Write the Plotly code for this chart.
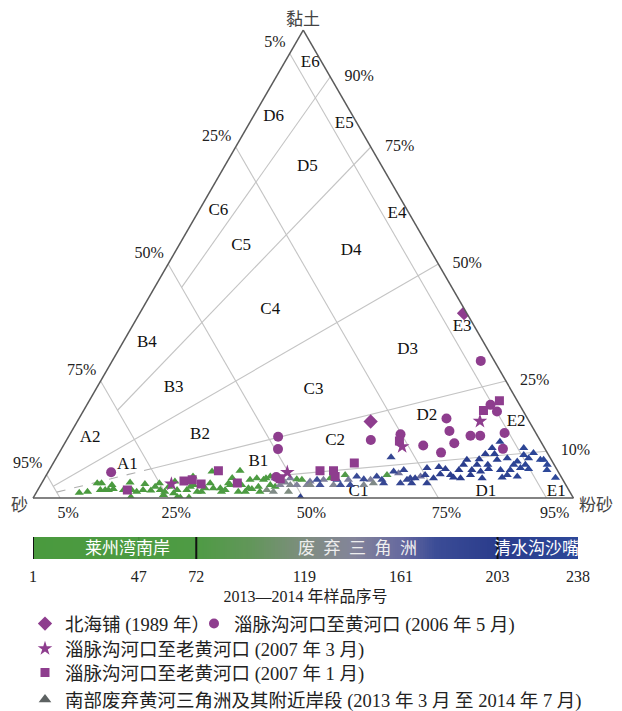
import plotly.graph_objects as go

# ------------------------------------------------------------------ data
# values are (silt %, clay %); sand = 100 - silt - clay
diamond_silt = [60.0, 54.3]
diamond_clay = [39.5, 16.35]

circle_silt = [11.7, 38.8, 40.1, 42.75, 56.3, 61.2, 66.6, 70.65, 68.0, 69.9,
               72.1, 74.3, 76.1, 68.2, 74.7, 76.6, 80.3, 81.7]
circle_clay = [5.5, 13.1, 10.45, 4.5, 12.4, 13.6, 11.2, 9.7, 17.0, 14.3,
               11.7, 13.3, 13.3, 29.3, 19.9, 18.5, 13.9, 10.5]

star_silt = [24.1, 44.3, 62.8, 74.5]
star_clay = [3.0, 5.5, 11.0, 16.4]

square_silt = [16.6, 26.1, 27.5, 29.6, 31.4, 36.2, 43.7, 50.2, 52.7, 53.6,
               55.7, 61.7, 74.0, 75.9]
square_clay = [1.7, 3.65, 3.9, 3.0, 5.8, 3.2, 4.1, 5.8, 5.8, 4.6,
               7.5, 12.2, 18.7, 20.8]

# 2013-2014 samples (sample number, silt %, clay %)
laizhou_no = list(range(1, 62))
laizhou_silt = [8.0, 9.4, 10.3, 11.1, 11.6, 12.5, 13.1, 13.2, 13.9, 15.9, 16.3, 17.4,
                18.0, 18.5, 19.5, 21.0, 21.8, 22.7, 23.8, 23.7, 23.9, 25.5, 25.8, 24.5,
                26.6, 27.2, 27.6, 28.8, 27.3, 28.3, 29.7, 30.5, 31.2, 30.3, 32.3, 33.6,
                34.2, 34.6, 35.1, 36.1, 37.3, 35.4, 37.2, 38.6, 38.8, 38.2, 39.55, 39.3,
                40.5, 41.3, 40.7, 41.0, 41.6, 42.5, 43.6, 19.2, 21.4, 27.9, 30.8, 34.7, 34.7]
laizhou_clay = [1.1, 1.35, 3.15, 3.15, 1.7, 1.7, 1.7, 2.8, 1.9, 1.7, 3.3, 1.7,
                0.2, 1.35, 1.7, 1.6, 3.15, 1.7, 0.65, 1.35, 2.4, 1.0, 1.7, 3.5,
                0.2, 0.1, 1.7, 0.1, 4.6, 2.8, 1.35, 1.35, 3.15, 5.65, 2.1, 2.1,
                1.35, 3.15, 2.8, 3.15, 1.35, 5.8, 2.8, 1.35, 2.1, 3.9, 1.9, 4.2,
                2.4, 1.35, 3.9, 4.2, 4.6, 2.8, 2.4, 3.0, 2.4, 2.4, 2.1, 1.7, 4.3]

delta_no = [73, 74, 75, 76, 77,
            118, 125, 160, 140, 135, 120, 145, 130, 142, 138, 150, 128, 146, 136, 148,
            132, 144, 126, 152, 155,
            195, 176, 174, 178, 175, 177, 180, 179, 182, 181, 184, 186, 188, 183, 187,
            189, 185, 190, 191, 192, 193, 194]
delta_silt = [46.8, 47.8, 52.9, 55.3, 63.05,
              42.4, 43.8, 42.7, 44.3, 45.0, 46.6, 45.5, 46.2, 47.4, 49.3, 49.5, 49.9, 51.8,
              54.2, 56.4, 59.8, 60.5, 61.4, 65.0, 69.4,
              49.4, 50.6, 51.7, 54.3, 55.5, 57.3, 57.6, 59.2, 61.3, 62.6, 63.3, 61.9, 63.9,
              66.4, 65.6, 67.25, 67.7, 68.5, 68.6, 70.1, 71.3, 69.7]
delta_clay = [4.0, 3.9, 4.2, 4.9, 4.9,
              1.7, 1.35, 4.2, 2.8, 3.3, 1.35, 4.2, 2.8, 2.8, 2.8, 3.5, 2.8, 3.9,
              2.8, 3.9, 2.8, 3.9, 3.15, 5.3, 4.6,
              0.15, 3.9, 2.8, 3.9, 2.8, 2.8, 4.6, 4.0, 4.6, 3.9, 3.15, 8.7, 5.65,
              3.15, 6.0, 3.9, 4.2, 3.15, 4.2, 4.9, 3.15, 6.4]

qingshuigou_no = list(range(196, 239))
qingshuigou_silt = [72.0, 71.8, 72.8, 73.2, 74.8, 75.6, 75.8, 77.0, 76.1, 76.2, 78.5,
                    78.2, 78.6, 78.4, 80.0, 81.0, 79.0, 80.6, 81.2, 79.6, 80.7, 81.8,
                    80.4, 83.5, 84.6, 83.5, 85.3, 85.3, 85.4, 85.7, 87.3, 87.0, 85.45,
                    86.2, 87.55, 87.45, 88.6, 87.8, 89.8, 90.4, 91.6, 92.1, 94.5]
qingshuigou_clay = [4.2, 6.6, 5.1, 6.2, 4.9, 4.4, 6.0, 4.2, 7.1, 8.15, 4.9,
                    6.0, 7.1, 8.3, 5.65, 4.2, 9.4, 7.1, 6.2, 10.7, 9.4, 8.15,
                    12.0, 6.0, 4.4, 8.5, 4.9, 6.0, 7.1, 7.8, 4.6, 6.4, 10.7,
                    9.2, 7.1, 8.5, 6.2, 9.6, 8.15, 8.15, 7.1, 6.0, 4.35]

# classification scheme
sand_classes = [95, 75, 50, 25, 5]                 # sand-content boundaries
ratio_classes = [10, 25, 50, 75, 90]               # clay share of mud (%)
ratio_start_sand = [50, 75, 95, 75, 50]            # where each solid ratio line begins
dashed_ratio = 25                                  # ratio line drawn dashed inside A
zone_names = ["E6", "D6", "E5", "D5", "C6", "C5", "E4", "D4", "C4", "B4", "B3",
              "C3", "D3", "E3", "A2", "B2", "C2", "D2", "E2", "A1", "B1", "C1",
              "D1", "E1"]

# percentage tick labels on the three sides
left_tick_sand = [5, 25, 50, 75, 95]
left_ticks = ["5%", "25%", "50%", "75%", "95%"]     # sand % along the sand-clay side
bottom_tick_silt = [5, 25, 50, 75, 95]
bottom_ticks = ["5%", "25%", "50%", "75%", "95%"]   # silt % along the sand-silt side
right_tick_clay = [90, 75, 50, 25, 10]
right_ticks = ["90%", "75%", "50%", "25%", "10%"]   # clay % along the silt-clay side

# colour bar
bar_ticks = [1, 47, 72, 119, 161, 203, 238]
region_names = ["莱州湾南岸", "废\u2002弃\u2002三\u2002角\u2002洲", "清水沟沙嘴"]
region_bounds = [1, 72, 203, 238]

# ------------------------------------------------------------------ style / layout
W, H, PAGE = 614, 703, 8          # page body has an 8px margin


def px(x):
    return (x - PAGE) / W


def py(y):
    return 1 - (y - PAGE) / H


FONT = "Liberation Serif, 'Noto Sans CJK SC', serif"
PURPLE = "#8e3d8e"
LINE = "#c4c4c4"
EDGE = "#5a5a5a"
SCALE = [[0.0, "#4a9a3e"], [0.30, "#4e9b44"], [0.40, "#62965a"], [0.50, "#7f8d80"],
         [0.59, "#83849a"], [0.68, "#65689f"], [0.74, "#3b4c96"], [0.85, "#2a3c8c"],
         [1.0, "#2d4899"]]
LEFT_LABEL_LIFT = 2.2      # reference prints side labels slightly off their lines
BOTTOM_LABEL_SHIFT = 1.5
NB = "\u00a0"

# label anchor positions (clay, silt) for the zone names
zone_pos = [(92.9, 4.85), (81.5, 3.75), (80.0, 17.6), (70.75, 15.4), (61.4, 3.6),
            (53.8, 11.6), (60.7, 37.0), (52.9, 32.4), (40.3, 23.75), (33.2, 4.45),
            (23.5, 14.25), (23.2, 40.3), (31.6, 53.5), (36.5, 61.15), (12.8, 4.15),
            (13.5, 24.15), (12.3, 49.75), (17.6, 64.1), (16.4, 81.2), (7.1, 13.9),
            (7.8, 37.8), (1.25, 59.6), (1.35, 83.1), (1.35, 96.15)]


def sand_of(silt, clay):
    return [100 - s - c for s, c in zip(silt, clay)]


fig = go.Figure()

# ---- classification lines
sa, sb, sc = [], [], []
for s in sand_classes:
    sa += [100 - s, 0, None]; sb += [s, s, None]; sc += [0, 100 - s, None]
for r, s0 in zip(ratio_classes, ratio_start_sand):
    mud = 100 - s0
    sa += [r * mud / 100, r, None]; sb += [s0, 0, None]
    sc += [(100 - r) * mud / 100, 100 - r, None]
fig.add_trace(go.Scatterternary(a=sa, b=sb, c=sc, mode="lines",
                                line=dict(color=LINE, width=1.1),
                                hoverinfo="skip", showlegend=False))
fig.add_trace(go.Scatterternary(
    a=[dashed_ratio * 5 / 100, dashed_ratio * 25 / 100], b=[95, 75],
    c=[(100 - dashed_ratio) * 5 / 100, (100 - dashed_ratio) * 25 / 100],
    mode="lines", line=dict(color="#b0b0b0", width=1.1, dash="dash"),
    hoverinfo="skip", showlegend=False))

# ---- zone labels
fig.add_trace(go.Scatterternary(
    a=[p[0] for p in zone_pos], c=[p[1] for p in zone_pos],
    b=[100 - p[0] - p[1] for p in zone_pos], mode="text", text=zone_names,
    textfont=dict(family=FONT, size=17, color="#111"), hoverinfo="skip",
    showlegend=False))

# ---- 2013-2014 samples
tri_no = laizhou_no + delta_no + qingshuigou_no
tri_silt = laizhou_silt + delta_silt + qingshuigou_silt
tri_clay = laizhou_clay + delta_clay + qingshuigou_clay
fig.add_trace(go.Scatterternary(
    a=tri_clay, b=sand_of(tri_silt, tri_clay), c=tri_silt, mode="markers",
    marker=dict(symbol="triangle-up", size=8, color=tri_no, colorscale=SCALE,
                cmin=1, cmax=238, line=dict(width=0)),
    showlegend=False, name="2013-2014"))


def purple(silt, clay, symbol, size, name, legend, width=None):
    fig.add_trace(go.Scatterternary(
        a=clay, b=sand_of(silt, clay), c=silt, mode="markers", name=name,
        marker=dict(symbol=symbol, size=size, color=PURPLE, line=dict(width=0)),
        legend=legend, legendwidth=width))


purple(diamond_silt, diamond_clay, "diamond", 11, "北海铺 (1989 年）", "legend", 124)
purple(circle_silt, circle_clay, "circle", 10, "淄脉沟河口至黄河口 (2006 年 5 月)", "legend")
purple(star_silt, star_clay, "star", 11, "淄脉沟河口至老黄河口 (2007 年 3 月)", "legend2")
purple(square_silt, square_clay, "square", 9, "淄脉沟河口至老黄河口 (2007 年 1 月)", "legend3")
fig.add_trace(go.Scatterternary(
    a=[None], b=[None], c=[None], mode="markers",
    name="南部废弃黄河三角洲及其附近岸段 (2013 年 3 月 至 2014 年 7 月)",
    marker=dict(symbol="triangle-up", size=11, color="#5d6262"), legend="legend4"))

# ---- colour bar of sample numbers
bar_x = list(range(1, 239))
fig.add_trace(go.Heatmap(x=bar_x, y=[0], z=[bar_x], colorscale=SCALE, zmin=1, zmax=238,
                         showscale=False, hoverinfo="skip", xaxis="x", yaxis="y"))
for xb in region_bounds[:-1]:
    fig.add_shape(type="line", xref="x", yref="y domain", x0=xb, x1=xb, y0=0, y1=1,
                  line=dict(color="#111", width=2))
fig.add_shape(type="line", xref="x", yref="y domain", x0=47, x1=47, y0=0, y1=1,
              line=dict(color="rgba(0,0,0,0.15)", width=1))
for name, centre in zip(region_names, [42, 142, 220]):
    fig.add_annotation(x=centre, y=0, xref="x", yref="y", text=name, showarrow=False,
                       font=dict(family=FONT, size=17,
                                 color="#eeeeee" if name.startswith("废") else "white"))

axis_tick_font = dict(family=FONT, size=16, color="#222")
vertex_font = dict(family=FONT, size=17, color="#444")
legend_font = dict(family=FONT, size=18.5, color="#222")


def legend_at(top, orientation="v"):
    return dict(orientation=orientation, x=px(25), xanchor="left", y=py(top),
                yanchor="top", font=legend_font, bgcolor="rgba(0,0,0,0)",
                itemclick=False)


fig.update_layout(
    width=W, height=H,
    margin=dict(l=0, r=0, t=0, b=0, autoexpand=False),
    paper_bgcolor="white", plot_bgcolor="white",
    font=dict(family=FONT, color="#222"),
    ternary=dict(
        sum=100, bgcolor="white",
        domain=dict(x=[px(33), px(573.5)], y=[py(498), py(30)]),
        aaxis=dict(tickmode="array",
                   tickvals=[100 - s + LEFT_LABEL_LIFT for s in left_tick_sand],
                   ticktext=[t + NB * 2 for t in left_ticks], showgrid=False,
                   title=dict(text=""), ticks="", linecolor=EDGE, linewidth=1.5,
                   tickfont=axis_tick_font),
        baxis=dict(tickmode="array",
                   tickvals=[100 - s - BOTTOM_LABEL_SHIFT for s in bottom_tick_silt],
                   ticktext=bottom_ticks, showgrid=False, title=dict(text=""),
                   ticks="", linecolor=EDGE, linewidth=1.5, tickfont=axis_tick_font),
        caxis=dict(tickmode="array", tickvals=[100 - c for c in right_tick_clay],
                   ticktext=[NB * 3 + t for t in right_ticks], showgrid=False,
                   title=dict(text=""), ticks="", linecolor=EDGE, linewidth=1.5,
                   tickfont=axis_tick_font),
    ),
    xaxis=dict(domain=[px(33), px(578)], anchor="y", range=[1, 238],
               tickmode="array", tickvals=bar_ticks, ticks="", showgrid=False,
               zeroline=False, showline=False, ticklabelstandoff=6,
               tickfont=dict(family=FONT, size=16, color="#222"),
               title=dict(text="2013—2014 年样品序号", standoff=6,
                          font=dict(family=FONT, size=16, color="#222"))),
    yaxis=dict(domain=[py(559), py(537)], anchor="x", range=[-0.5, 0.5],
               visible=False, fixedrange=True),
    legend=legend_at(605, "h"),
    legend2=legend_at(630),
    legend3=legend_at(654),
    legend4=legend_at(681),
    annotations=list(fig.layout.annotations) + [
        dict(text="黏土", x=px(303), y=py(19), xref="paper", yref="paper",
             xanchor="center", yanchor="middle", showarrow=False, font=vertex_font),
        dict(text="砂", x=px(20), y=py(506), xref="paper", yref="paper",
             xanchor="center", yanchor="middle", showarrow=False, font=vertex_font),
        dict(text="粉砂", x=px(596), y=py(505), xref="paper", yref="paper",
             xanchor="center", yanchor="middle", showarrow=False, font=vertex_font),
    ],
)

fig.write_html("out.html")
